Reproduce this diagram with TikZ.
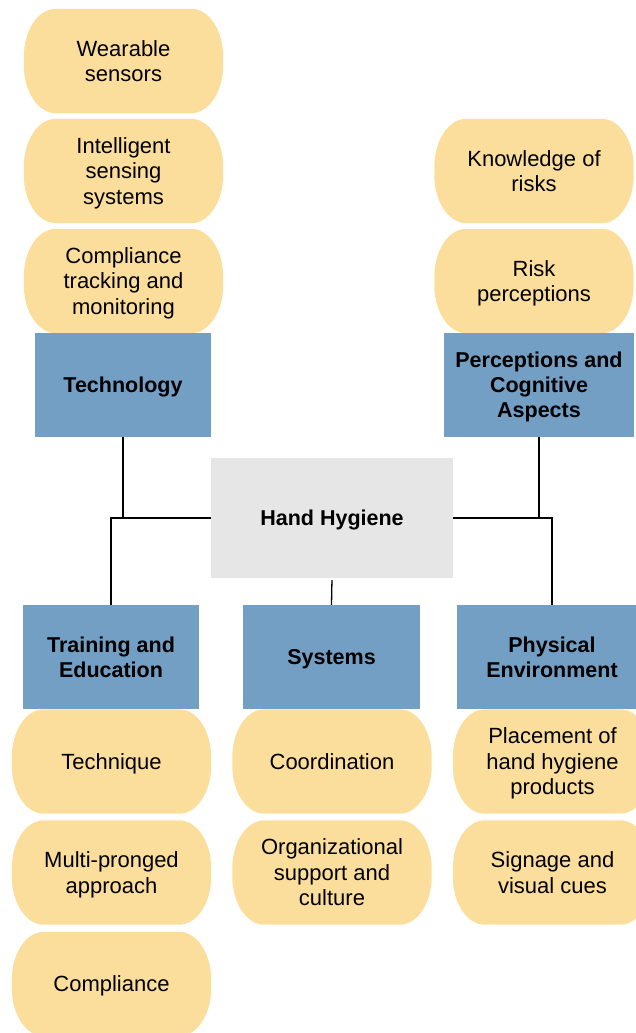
\documentclass[tikz,border=0pt]{standalone}
\usepackage{fontspec}
\setmainfont{Liberation Sans}
\usetikzlibrary{backgrounds, calc}

\definecolor{pillfill}{RGB}{252,222,156}
\definecolor{boxblue}{RGB}{115,159,196}
\definecolor{hubgray}{RGB}{230,230,230}

\tikzset{
    pill/.style={minimum width=199pt, minimum height=104pt, inner sep=0pt, align=center,
        text depth=0pt, font=\fontsize{22}{25.5}\selectfont},
    area/.style={fill=boxblue, minimum height=104pt, inner sep=0pt, align=center,
        text depth=0pt, font=\bfseries\fontsize{21.5}{25}\selectfont},
    hub/.style={fill=hubgray, minimum width=242pt, minimum height=120pt,
        text depth=0pt, font=\bfseries\fontsize{21.5}{25}\selectfont},
    link/.style={line width=1.3pt}
}

\begin{document}
\begin{tikzpicture}[x=1pt, y=-1pt]
    \useasboundingbox (0, 0) rectangle (636, 1033);

    % centre
    \node[hub] (hh) at (332, 518) {Hand Hygiene};

    % the five areas
    \node[area, minimum width=176pt] (tech) at (123, 385) {Technology};
    \node[area, minimum width=190pt] (percep) at (539, 385) {Perceptions and\\Cognitive\\Aspects};
    \node[area, minimum width=176pt] (train) at (111, 657) {Training and\\Education};
    \node[area, minimum width=177pt] (sys) at (331.5, 657) {Systems};
    \node[area, minimum width=190pt] (phys) at (552, 657) {Physical\\Environment};

    % items above
    \node[pill] (wear) at (123.5, 61) {Wearable\\sensors};
    \node[pill] (sense) at (123.5, 171) {Intelligent\\sensing\\systems};
    \node[pill] (track) at (123.5, 281) {Compliance\\tracking and\\monitoring};
    \node[pill] (know) at (534, 171) {Knowledge of\\risks};
    \node[pill] (riskp) at (534, 281) {Risk\\perceptions};

    % items below
    \node[pill] (techq) at (111.5, 761.5) {Technique};
    \node[pill] (multi) at (111.5, 872.5) {Multi-pronged\\approach};
    \node[pill] (compl) at (111.5, 984) {Compliance};
    \node[pill] (coord) at (332, 761.5) {Coordination};
    \node[pill] (orgsup) at (332, 872.5) {Organizational\\support and\\culture};
    \node[pill] (place) at (552.5, 761.5) {Placement of\\hand hygiene\\products};
    \node[pill] (signage) at (552.5, 872.5) {Signage and\\visual cues};

    % connectors
    \draw[link] (tech.south) -- (tech.south |- hh.west);
    \draw[link] (hh.west) -| (train.north);
    \draw[link] (percep.south) -- (percep.south |- hh.east);
    \draw[link] (hh.east) -| (phys.north);
    \draw[link, shorten <=2pt] (hh.south) -- (sys.north);

    % pill backgrounds with oval ends
    \begin{scope}[on background layer]
        \foreach \p in {wear, sense, track, know, riskp, techq, multi, compl, coord, orgsup, place, signage}
            \fill[pillfill] ([xshift=32pt]\p.north west) -- ([xshift=-32pt]\p.north east)
                arc[start angle=90, end angle=0, x radius=32pt, y radius=48pt]
                -- ([yshift=48pt]\p.south east)
                arc[start angle=0, end angle=-90, x radius=32pt, y radius=48pt]
                -- ([xshift=32pt]\p.south west)
                arc[start angle=270, end angle=180, x radius=32pt, y radius=48pt]
                -- ([yshift=-48pt]\p.north west)
                arc[start angle=180, end angle=90, x radius=32pt, y radius=48pt] -- cycle;
    \end{scope}
\end{tikzpicture}
\end{document}
